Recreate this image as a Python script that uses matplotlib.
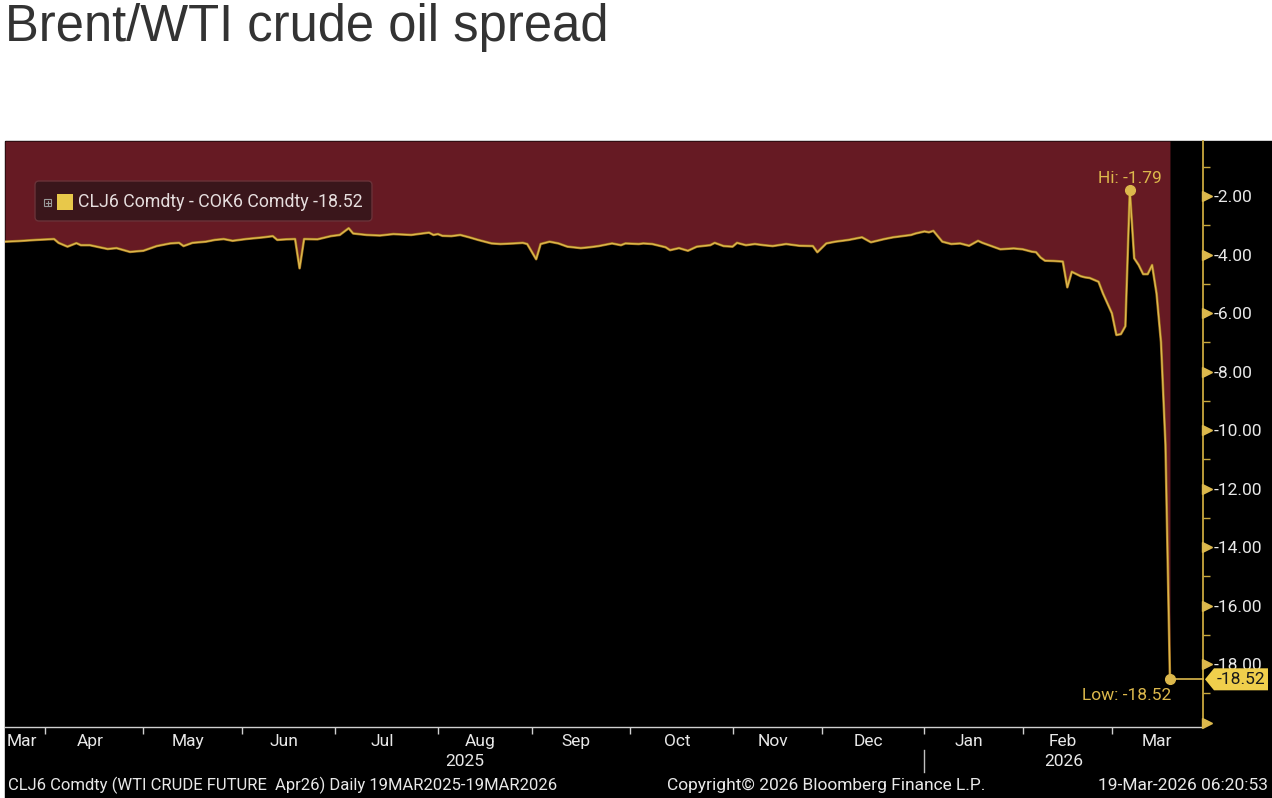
import numpy as np
import matplotlib
matplotlib.use("Agg")
import matplotlib.pyplot as plt
import matplotlib.transforms as mtrans
from matplotlib.patches import Rectangle, FancyBboxPatch, Polygon
from matplotlib.lines import Line2D

# ---------------- data ----------------
dates = [
    "2025-03-19", "2025-03-24", "2025-03-28", "2025-04-03", "2025-04-04", "2025-04-08",
    "2025-04-10", "2025-04-11", "2025-04-15", "2025-04-18", "2025-04-21", "2025-04-23",
    "2025-04-28", "2025-05-01", "2025-05-06", "2025-05-09", "2025-05-13", "2025-05-14",
    "2025-05-16", "2025-05-21", "2025-05-23", "2025-05-27", "2025-05-29", "2025-06-03",
    "2025-06-09", "2025-06-11", "2025-06-12", "2025-06-16", "2025-06-18", "2025-06-19",
    "2025-06-20", "2025-06-25", "2025-06-30", "2025-07-02", "2025-07-04", "2025-07-07",
    "2025-07-10", "2025-07-15", "2025-07-18", "2025-07-24", "2025-07-30", "2025-07-31",
    "2025-08-01", "2025-08-04", "2025-08-06", "2025-08-08", "2025-08-12", "2025-08-14",
    "2025-08-19", "2025-08-21", "2025-08-26", "2025-08-28", "2025-08-29", "2025-09-02",
    "2025-09-03", "2025-09-05", "2025-09-09", "2025-09-11", "2025-09-16", "2025-09-18",
    "2025-09-22", "2025-09-25", "2025-09-29", "2025-09-30", "2025-10-03", "2025-10-06",
    "2025-10-08", "2025-10-13", "2025-10-14", "2025-10-16", "2025-10-20", "2025-10-22",
    "2025-10-27", "2025-10-28", "2025-10-30", "2025-11-03", "2025-11-04", "2025-11-06",
    "2025-11-10", "2025-11-12", "2025-11-14", "2025-11-19", "2025-11-24", "2025-11-27",
    "2025-11-28", "2025-12-02", "2025-12-04", "2025-12-09", "2025-12-10", "2025-12-12",
    "2025-12-16", "2025-12-19", "2025-12-23", "2025-12-29", "2025-12-30", "2026-01-01",
    "2026-01-02", "2026-01-05", "2026-01-07", "2026-01-09", "2026-01-13", "2026-01-15",
    "2026-01-19", "2026-01-20", "2026-01-22", "2026-01-26", "2026-01-29", "2026-02-02",
    "2026-02-04", "2026-02-05", "2026-02-06", "2026-02-09", "2026-02-11", "2026-02-13",
    "2026-02-16", "2026-02-17", "2026-02-19", "2026-02-20", "2026-02-23", "2026-02-25",
    "2026-02-26", "2026-02-27", "2026-03-02", "2026-03-03", "2026-03-04", "2026-03-05",
    "2026-03-06", "2026-03-09", "2026-03-10", "2026-03-11", "2026-03-12", "2026-03-13",
    "2026-03-16", "2026-03-17", "2026-03-18", "2026-03-19",
]
spread = [
    -3.56, -3.54, -3.50, -3.47, -3.60, -3.73,
    -3.61, -3.68, -3.68, -3.78, -3.81, -3.78,
    -3.91, -3.87, -3.71, -3.62, -3.60, -3.71,
    -3.60, -3.56, -3.50, -3.47, -3.53, -3.47,
    -3.41, -3.37, -3.50, -3.48, -3.47, -4.47,
    -3.47, -3.48, -3.37, -3.33, -3.10, -3.28,
    -3.33, -3.35, -3.30, -3.33, -3.25, -3.33,
    -3.30, -3.36, -3.37, -3.33, -3.41, -3.50,
    -3.62, -3.64, -3.62, -3.60, -3.64, -4.16,
    -3.64, -3.56, -3.62, -3.73, -3.78, -3.75,
    -3.71, -3.62, -3.68, -3.62, -3.64, -3.62,
    -3.64, -3.75, -3.85, -3.78, -3.87, -3.73,
    -3.68, -3.60, -3.71, -3.73, -3.60, -3.68,
    -3.64, -3.68, -3.71, -3.64, -3.70, -3.71,
    -3.92, -3.62, -3.56, -3.50, -3.47, -3.41,
    -3.58, -3.47, -3.41, -3.33, -3.28, -3.21,
    -3.24, -3.19, -3.56, -3.64, -3.62, -3.70,
    -3.53, -3.60, -3.71, -3.82, -3.79, -3.82,
    -3.90, -3.92, -4.10, -4.21, -4.22, -4.24,
    -5.12, -4.59, -4.74, -4.78, -4.80, -4.93,
    -5.33, -5.67, -6.01, -6.75, -6.72, -6.45,
    -1.79, -4.13, -4.36, -4.67, -4.67, -4.36,
    -5.33, -7.00, -10.50, -18.52,
]
month_labels = ["Mar", "Apr", "May", "Jun", "Jul", "Aug", "Sep", "Oct", "Nov", "Dec",
                "Jan", "Feb", "Mar"]
month_starts = ["2025-03-01", "2025-04-01", "2025-05-01", "2025-06-01", "2025-07-01",
                "2025-08-01", "2025-09-01", "2025-10-01", "2025-11-01", "2025-12-01",
                "2026-01-01", "2026-02-01", "2026-03-01", "2026-04-01"]
year_labels = ["2025", "2026"]
ytick_major = [-18, -16, -14, -12, -10, -8, -6, -4, -2]
ytick_marks = [-20, -18, -16, -14, -12, -10, -8, -6, -4, -2]
ytick_minor = [-19, -17, -15, -13, -11, -9, -7, -5, -3, -1]
legend_text = "CLJ6 Comdty - COK6 Comdty -18.52"
title = "Brent/WTI crude oil spread"
footer_left = "CLJ6 Comdty (WTI CRUDE FUTURE  Apr26) Daily 19MAR2025-19MAR2026"
footer_mid = "Copyright\u00a9 2026 Bloomberg Finance L.P."
footer_right = "19-Mar-2026 06:20:53"
start_date = "2025-03-19"

# ---------------- styling ----------------
W, H = 1272, 798
RED = "#661a23"
GOLD = "#dcb84c"
AXGOLD = "#c9a83e"
TXT = "#e8e8e8"
BBG = ["Roboto", "DejaVu Sans"]
FS = 12.5

fig = plt.figure(figsize=(W / 100, H / 100), dpi=100)
fig.patch.set_facecolor("white")
ID = mtrans.IdentityTransform()


def P(y):
    return H - y


# black terminal panel
fig.patches.append(Rectangle((5, 0), W - 5, P(141), transform=ID, color="black", zorder=0))

ax = fig.add_axes([5 / W, 1 - 727 / H, (1203 - 5) / W, (727 - 141) / H])
ax.set_facecolor("black")
ax.set_zorder(1)

d = np.array(dates, dtype="datetime64[D]")
x = np.busday_count(np.datetime64(start_date), d)
v = np.array(spread)

ytop, ybot = -0.12, -20.15
xmax = 268.4
ax.set_xlim(0, xmax)
ax.set_ylim(ybot, ytop)

ax.fill_between(x, v, ytop, color=RED, lw=0, zorder=1)
ax.plot(x, v, color="#9a6a1c", lw=1.9, zorder=2, solid_joinstyle="round")
ax.plot(x, v, color=GOLD, lw=1.0, zorder=3, solid_joinstyle="round")

# spines
for s in ["left", "top"]:
    ax.spines[s].set_visible(False)
ax.spines["right"].set_color(AXGOLD)
ax.spines["right"].set_linewidth(1.3)
ax.spines["bottom"].set_color("#d0d0d0")
ax.spines["bottom"].set_linewidth(1.0)

# y axis on the right
ax.yaxis.tick_right()
ax.set_yticks(ytick_major)
ax.set_yticklabels([f"{t:.2f}" for t in ytick_major])
ax.set_yticks(ytick_minor, minor=True)
ax.tick_params(axis="y", which="major", length=0, pad=8, labelcolor=TXT, labelsize=FS)
ax.tick_params(axis="y", which="minor", length=5, width=1.0, color=AXGOLD, direction="out")
for lab in ax.get_yticklabels():
    lab.set_family(BBG)
tri_tr = mtrans.offset_copy(mtrans.blended_transform_factory(ax.transAxes, ax.transData),
                            fig=fig, x=3.5, y=0, units="dots")
ax.plot(np.ones(len(ytick_marks)), ytick_marks, ls="none", marker=">", ms=6.5,
        color=GOLD, transform=tri_tr, clip_on=False, zorder=5)

# x axis: month ticks at first business day of each month
ms_dates = np.busday_offset(np.array(month_starts, dtype="datetime64[D]"), 0, roll="forward")
ms_idx = np.busday_count(np.datetime64(start_date), ms_dates)
ticks = ms_idx[1:-1]
ax.set_xticks(ticks)
ax.set_xticklabels([])
mids = (ms_idx[:-1] + ms_idx[1:]) / 2.0 - 1.0
mids[0] = max(mids[0], 3.8)
ax.set_xticks(mids, minor=True)
ax.set_xticklabels(month_labels, minor=True)
ax.tick_params(axis="x", which="major", length=5, width=1.0, color="#d0d0d0", direction="out")
ax.tick_params(axis="x", which="minor", length=0, pad=5, labelcolor=TXT, labelsize=FS)
for lab in ax.get_xticklabels(minor=True):
    lab.set_family(BBG)

# year labels centred on visible year spans + separator
jan = ms_idx[10]
xb = mtrans.blended_transform_factory(ax.transData, ax.transAxes)
yr_y = -(762 - 727) / (727 - 141)
ax.text(jan / 2.0, yr_y, year_labels[0], transform=xb, ha="center", va="center",
        color=TXT, fontsize=FS, family=BBG)
ax.text((jan + xmax) / 2.0, yr_y, year_labels[1], transform=xb, ha="center", va="center",
        color=TXT, fontsize=FS, family=BBG)
ax.add_line(Line2D([jan, jan], [-(750 - 727) / 586, -(772 - 727) / 586], transform=xb,
                   color="#bfbfbf", lw=1.0, clip_on=False))

# Hi / Low markers
ih = int(np.argmax(v))
il = int(np.argmin(v))
ax.plot([x[ih]], [v[ih]], "o", ms=7, color=GOLD, zorder=6)
ax.annotate(f"Hi: {v[ih]:.2f}", (x[ih], v[ih]), xytext=(0, 3), textcoords="offset points",
            ha="center", va="bottom", color=GOLD, fontsize=FS, family=BBG, zorder=6)
ax.plot([x[il], xmax], [v[il], v[il]], color=GOLD, lw=1.2, clip_on=False, zorder=4)
ax.plot([x[il]], [v[il]], "o", ms=7, color=GOLD, zorder=6)
ax.annotate(f"Low: {v[il]:.2f}", (x[il], v[il]), xytext=(1, -6), textcoords="offset points",
            ha="right", va="top", color=GOLD, fontsize=FS, family=BBG, zorder=6)

# last value tag on the axis
tag_tr = mtrans.blended_transform_factory(ID, ax.transData)
last = v[-1]
hh = 11 / 29.25
tag = Polygon([(1205, last), (1214, last + hh), (1268, last + hh), (1268, last - hh),
               (1214, last - hh)], closed=True, transform=tag_tr, facecolor="#f0cf4c",
              edgecolor="none", clip_on=False, zorder=7)
ax.add_patch(tag)
ax.text(1241, last, f"{last:.2f}", transform=tag_tr, ha="center", va="center",
        color="#1a1a1a", fontsize=FS, family=BBG, zorder=8, clip_on=False)

# legend box
fig.patches.append(FancyBboxPatch((35, P(221)), 337, 40, boxstyle="round,pad=0,rounding_size=4",
                                  transform=ID, facecolor="#3a161b", edgecolor="#6a3238",
                                  lw=1.0, zorder=3))
fig.patches.append(Rectangle((44, P(206)), 7, 7, transform=ID, facecolor="none",
                             edgecolor="#9a9a9a", lw=0.8, zorder=4))
fig.lines.append(Line2D([45.5, 49.5], [P(202.5), P(202.5)], transform=ID, color="#9a9a9a", lw=0.8, zorder=4))
fig.lines.append(Line2D([47.5, 47.5], [P(200.5), P(204.5)], transform=ID, color="#9a9a9a", lw=0.8, zorder=4))
fig.patches.append(Rectangle((57, P(210)), 16, 16, transform=ID, facecolor="#e8c84a",
                             edgecolor="none", zorder=4))
fig.text(78, P(202), legend_text, transform=ID, ha="left", va="center", color="#e6dede",
         fontsize=12.8, family=BBG, zorder=5)

# title and footer
fig.text(5, P(28), title, transform=ID, ha="left", va="center", color="#333333",
         fontsize=36.5, family=["Liberation Sans", "DejaVu Sans"])
fig.text(8, P(785), footer_left, transform=ID, ha="left", va="center", color=TXT,
         fontsize=12.0, family=BBG)
fig.text(826, P(785), footer_mid, transform=ID, ha="center", va="center", color=TXT,
         fontsize=FS, family=BBG)
fig.text(1268, P(785), footer_right, transform=ID, ha="right", va="center", color=TXT,
         fontsize=FS, family=BBG)

fig.savefig("out.png", dpi=100, facecolor="white")
